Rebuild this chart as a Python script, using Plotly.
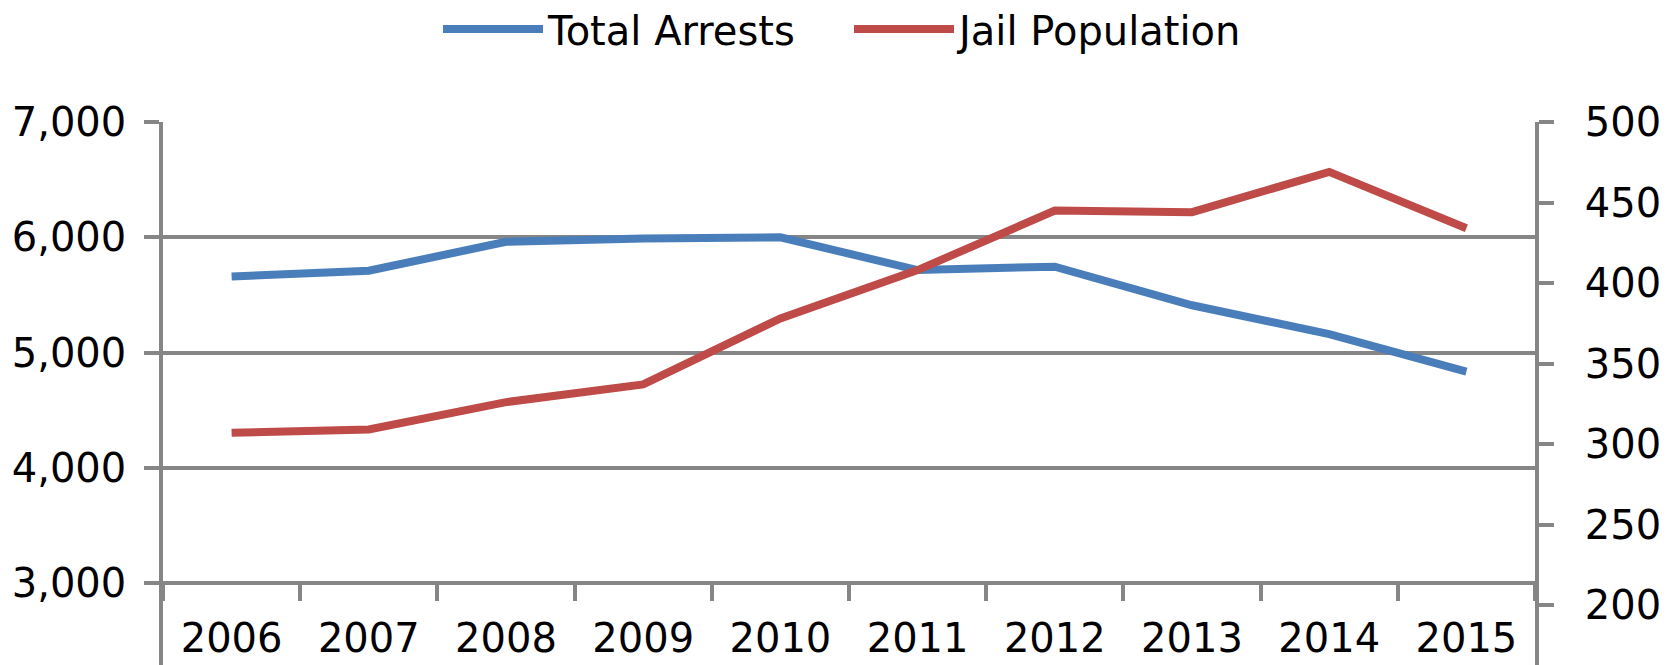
import plotly.graph_objects as go

years = ["2006", "2007", "2008", "2009", "2010", "2011", "2012", "2013", "2014", "2015"]
total_arrests = [5660, 5710, 5960, 5990, 6000, 5715, 5745, 5410, 5160, 4835]
jail_population = [307, 309, 326, 337, 378, 408, 445, 444, 469, 434]

left_ticks = [3000, 4000, 5000, 6000, 7000]
left_labels = ["3,000", "4,000", "5,000", "6,000", "7,000"]
right_ticks = [200, 250, 300, 350, 400, 450, 500]

# the page body adds an 8px margin, so the figure is 8px smaller and all positions shifted
W, H = 1663, 657
ML, MR, MT, MB = 155, 136, 114, 0
plot_w = W - ML - MR
plot_h = H - MT - MB
left_range = [7000 - plot_h / 115.25 * 1000, 7000]
right_range = [500 - plot_h / 1.61, 500]
x_pos = (3000 - left_range[0]) / (left_range[1] - left_range[0])

FONT = "DejaVu Sans"
FS = 40
GRID = "#868686"
LW = 3.5

fig = go.Figure()
fig.add_trace(go.Scatter(x=years, y=total_arrests, name="Total Arrests", mode="lines",
                         line=dict(color="#4A7EBB", width=8), yaxis="y"))
fig.add_trace(go.Scatter(x=years, y=jail_population, name="Jail Population", mode="lines",
                         line=dict(color="#BE4B48", width=8), yaxis="y2"))

fig.update_layout(
    width=W, height=H,
    margin=dict(l=ML, r=MR, t=MT, b=MB, pad=0, autoexpand=False),
    paper_bgcolor="white", plot_bgcolor="white",
    font=dict(family=FONT, size=FS, color="black"),
    showlegend=True,
    legend=dict(orientation="h", x=(430 - ML) / plot_w, xanchor="left",
                y=1 + (MT - 21) / plot_h, yanchor="middle",
                itemwidth=100, entrywidth=296, entrywidthmode="pixels",
                font=dict(family=FONT, size=FS, color="black"),
                bgcolor="rgba(0,0,0,0)", tracegroupgap=0),
    xaxis=dict(type="category", anchor="free", position=x_pos, range=[-0.5, 9.5],
               showline=True, linecolor=GRID, linewidth=LW,
               ticks="outside", tickson="boundaries", ticklen=16, tickwidth=LW, tickcolor=GRID,
               showgrid=False, zeroline=False, ticklabelstandoff=19,
               tickfont=dict(family=FONT, size=FS, color="black")),
    yaxis=dict(range=left_range, tickvals=left_ticks, ticktext=left_labels,
               showline=True, linecolor=GRID, linewidth=LW,
               ticks="outside", ticklen=15, tickwidth=LW, tickcolor=GRID,
               showgrid=True, gridcolor=GRID, gridwidth=LW, zeroline=False,
               ticklabelstandoff=10,
               tickfont=dict(family=FONT, size=FS, color="black")),
    yaxis2=dict(range=right_range, tickvals=right_ticks, overlaying="y", side="right",
                showline=True, linecolor=GRID, linewidth=LW,
                ticks="outside", ticklen=15, tickwidth=LW, tickcolor=GRID,
                showgrid=False, zeroline=False, ticklabelstandoff=23,
                tickfont=dict(family=FONT, size=FS, color="black")),
)

fig.write_html("out.html")
